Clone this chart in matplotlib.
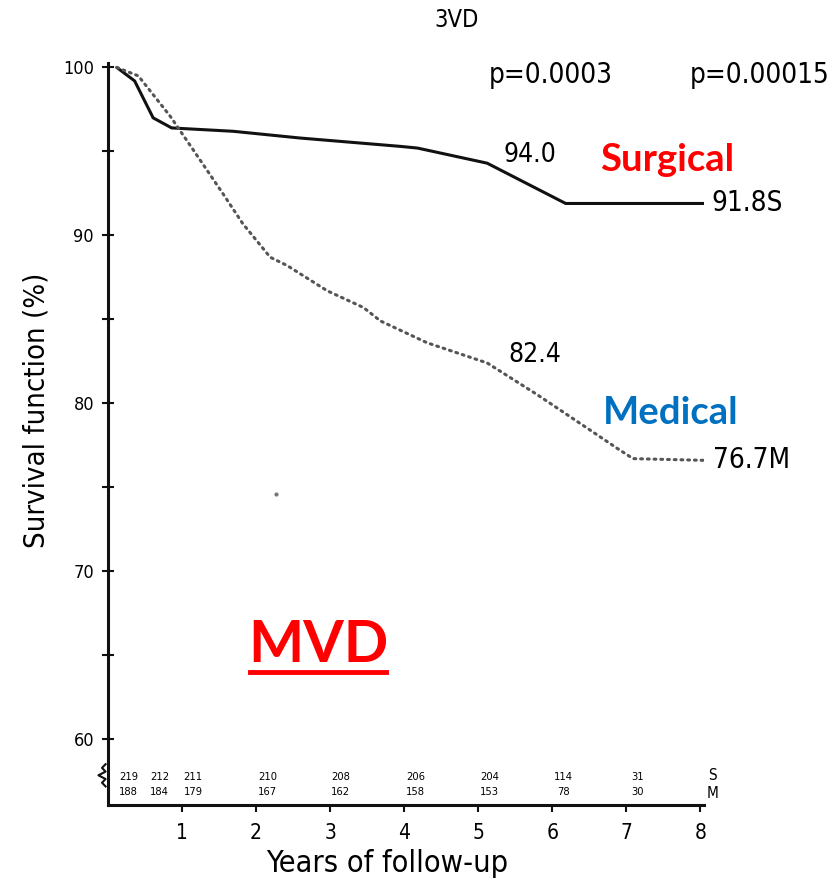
import matplotlib.pyplot as plt
import numpy as np

# survival curves (years, %)
surg_yr = [0.12, 0.36, 0.61, 0.86, 1.69, 2.59, 3.95, 4.18, 5.12, 6.18, 8.08]
surg_pc = [100.0, 99.2, 97.0, 96.4, 96.2, 95.8, 95.3, 95.2, 94.3, 91.9, 91.9]

med_yr = [0.12, 0.41, 0.84, 1.15, 1.55, 1.82, 2.19, 2.42, 2.96, 3.45, 3.68, 4.31,
          5.12, 5.8, 6.51, 6.88, 7.09, 8.04]
med_pc = [100.0, 99.5, 97.1, 95.1, 92.5, 90.7, 88.7, 88.2, 86.7, 85.7, 84.9, 83.6,
          82.4, 80.5, 78.4, 77.3, 76.7, 76.6]

# numbers at risk
risk_yr = [0.28, 0.70, 1.15, 2.16, 3.14, 4.15, 5.15, 6.15, 7.15]
risk_s = ['219', '212', '211', '210', '208', '206', '204', '114', '31']
risk_m = ['188', '184', '179', '167', '162', '158', '153', '78', '30']

xticks = [1, 2, 3, 4, 5, 6, 7, 8]
yticks = [60, 70, 80, 90, 100]
yminor = [65, 75, 85, 95]

font = dict(family='DejaVu Sans', stretch='condensed')
bold = ['Lato', 'DejaVu Sans']

fig = plt.figure(figsize=(8.35, 8.84), dpi=100)
ax = fig.add_axes([0.1293, 0.0894, 0.714, 0.839])

ax.plot(surg_yr, surg_pc, color='#111111', lw=2.2, solid_capstyle='round')
ax.plot(med_yr, med_pc, color='#555555', lw=2.2, linestyle=(0, (0.6, 1.6)),
        dash_capstyle='round')
ax.plot([2.27], [74.6], marker='o', ms=2, color='#777777')  # stray speck on the scan

ax.set_xlim(0, 8.05)
ax.set_ylim(56.07, 100.25)
for s in ['top', 'right']:
    ax.spines[s].set_visible(False)
for s in ['left', 'bottom']:
    ax.spines[s].set_linewidth(2.2)
    ax.spines[s].set_color('#111111')

ax.set_xticks(xticks)
ax.set_xticklabels([str(t) for t in xticks], fontsize=15, **font)
ax.set_yticks(yticks)
ax.set_yticks(yminor, minor=True)
ax.set_yticklabels([str(t) for t in yticks], fontsize=13, **font)
ax.tick_params(axis='x', direction='out', length=5, width=1.5, pad=8, color='#111111')
ax.tick_params(axis='y', which='both', direction='inout', length=8, width=1.5, pad=6,
               color='#111111')

ax.set_xlabel('Years of follow-up', fontsize=22, **font)
ax.set_ylabel('Survival function (%)', fontsize=21, **font)
ax.xaxis.set_label_coords(0.468, -0.06)
ax.yaxis.set_label_coords(-0.097, 0.532)

# number-at-risk rows
for x, s, m in zip(risk_yr, risk_s, risk_m):
    ax.text(x, 57.75, s, fontsize=8, ha='center', va='center', **font)
    ax.text(x, 56.85, m, fontsize=8, ha='center', va='center', **font)
ax.text(8.16, 57.85, 'S', fontsize=11, ha='center', va='center', **font)
ax.text(8.16, 56.75, 'M', fontsize=11, ha='center', va='center', **font)

# axis break squiggle
zx = np.array([0.0, -0.006, 0.0, -0.012, 0.0, -0.006, 0.0])
zy = np.linspace(0.025, 0.055, 7)
ax.plot(zx - 0.004, zy, color='#111111', lw=1.5, transform=ax.transAxes, clip_on=False)

# annotations from the original figure
fig.text(0.547, 0.977, '3VD', fontsize=17, ha='center', va='center', **font)
fig.text(0.66, 0.915, 'p=0.0003', fontsize=20, ha='center', va='center', **font)
fig.text(0.91, 0.915, 'p=0.00015', fontsize=20, ha='center', va='center', **font)
ax.text(5.7, 94.76, '94.0', fontsize=19, ha='center', va='center', **font)
ax.text(8.15, 91.9, '91.8S', fontsize=20, ha='left', va='center', **font)
ax.text(5.76, 82.86, '82.4', fontsize=19, ha='center', va='center', **font)
ax.text(8.17, 76.6, '76.7M', fontsize=20, ha='left', va='center', **font)

ax.text(6.65, 94.46, 'Surgical', fontsize=27.5, color='#FF0000', fontweight='bold',
        ha='left', va='center', family=bold)
ax.text(6.68, 79.4, 'Medical', fontsize=27.5, color='#0070C0', fontweight='bold',
        ha='left', va='center', family=bold)
ax.text(1.9, 65.55, 'MVD', fontsize=42, color='#FF0000', fontweight='bold',
        ha='left', va='center', family=bold)
ax.plot([1.92, 3.76], [64.0, 64.0], color='#FF0000', lw=3.5)

plt.savefig('out.png', dpi=100)
plt.close()
